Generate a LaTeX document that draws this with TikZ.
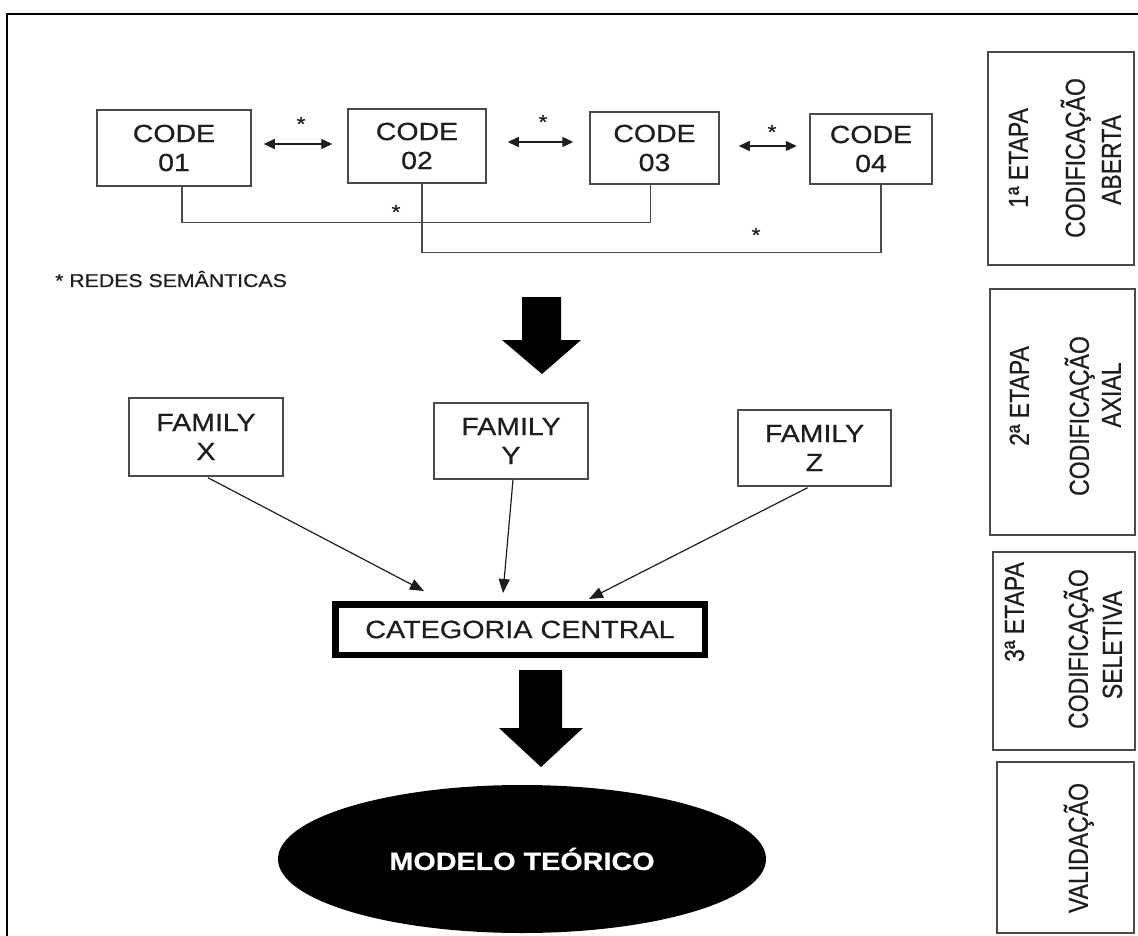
\documentclass[tikz,border=0pt]{standalone}
\usepackage{fontspec}
\setmainfont{Liberation Sans}[FakeStretch=1.15,FakeBold=0.6]
\newfontfamily\rotfont{Liberation Sans}[FakeBold=0.6]
\usetikzlibrary{arrows.meta,shapes.geometric,calc}

\definecolor{ink}{HTML}{1E1E1E}
\definecolor{edge}{HTML}{4A4A4A}

\begin{document}
\begin{tikzpicture}[x=1pt,y=-1pt,
  codebox/.style={draw=edge, line width=1.5pt, fill=white, align=center,
    inner sep=0pt, text=ink, font={\fontsize{24.75}{29}\selectfont}},
  catbox/.style={draw=black, line width=6.5pt, inner sep=0pt, text=ink,
    minimum width=369.5, minimum height=50.5, font={\fontsize{25}{25}\selectfont}},
  stagebox/.style={draw=edge, line width=1.7pt, inner sep=0pt},
  stagetext/.style={rotate=90, yscale=1.2, inner sep=0pt, text=ink,
    text height=16.5pt, text depth=0pt, font={\rotfont\fontsize{23}{23}\selectfont}},
  aster/.style={inner sep=0pt, text=ink, font={\fontsize{20}{20}\selectfont}},
  dbl/.style={{Triangle[length=11pt,width=10pt]}-{Triangle[length=11pt,width=10pt]},
    line width=1.4pt, draw=ink},
  link/.style={line width=1.4pt, draw=edge},
  famarrow/.style={-{Triangle[length=14pt,width=11pt]}, line width=1.2pt, draw=ink},
  blockarrow/.style={fill=black}
]
\useasboundingbox (0,0) rectangle (1138,936);

% outer frame (top and left edges)
\draw[line width=2pt] (7,936) -- (7,14) -- (1138,14);

% open coding: codes
\node[codebox, minimum width=154, minimum height=76] (c1) at (174,148) {CODE\\01};
\node[codebox, minimum width=138, minimum height=74] (c2) at (417,146) {CODE\\02};
\node[codebox, minimum width=129, minimum height=72] (c3) at (654.5,148) {CODE\\03};
\node[codebox, minimum width=122, minimum height=70] (c4) at (871,149) {CODE\\04};

% semantic links between neighbouring codes
\draw[dbl] ($(c1.east)+(12,-4)$) -- ($(c2.west)+(-15,-2)$);
\draw[dbl] ($(c2.east)+(21,-4)$) -- ($(c3.west)+(-16,-6)$);
\draw[dbl] ($(c3.east)+(19,-2)$) -- ($(c4.west)+(-12.5,-3)$);

% semantic links between distant codes
\draw[link] ($(c1.south)+(8,0)$) |- ($(c3.south)+(-4,38)$) -- ($(c3.south)+(-4,0)$);
\draw[link] ($(c2.south)+(5,0)$) |- ($(c4.south)+(10,68)$) -- ($(c4.south)+(10,0)$);

\node[aster] (a12) at (301,124) {*};
\node[aster] (a23) at (543,122) {*};
\node[aster] (a34) at (772,132) {*};
\node[aster] (a13) at (396,212) {*};
\node[aster] (a24) at (756,235) {*};

\node[anchor=west, inner sep=0pt, text=ink, font={\fontsize{18.5}{19}\selectfont}]
  (legend) at (55,279) {* REDES SEMÂNTICAS};

% block arrow to axial coding
\fill[blockarrow] (522,297) -- (561,297) -- (561,340) -- (581,340) -- (542,374)
  -- (502,340) -- (522,340) -- cycle;

% axial coding: families
\node[codebox, minimum width=154, minimum height=78] (fx) at (206,437) {FAMILY\\X};
\node[codebox, minimum width=154, minimum height=76] (fy) at (511,441) {FAMILY\\Y};
\node[codebox, minimum width=153, minimum height=76] (fz) at (814.5,448) {FAMILY\\Z};

% selective coding: central category
\node[catbox] (cat) at (520,629.5) {CATEGORIA CENTRAL};

\draw[famarrow] ($(fx.south)+(2,1)$) -- ($(cat.north)+(-96,-10)$);
\draw[famarrow] ($(fy.south)+(2,0)$) -- ($(cat.north)+(-17,-8)$);
\draw[famarrow] ($(fz.south)+(-7,1)$) -- ($(cat.north)+(69,-2)$);

% block arrow to the theoretical model
\fill[blockarrow] (519,670) -- (562,670) -- (562,728) -- (583,728) -- (541,767)
  -- (499,728) -- (519,728) -- cycle;

\node[ellipse, fill=black, minimum width=488, minimum height=148, inner sep=0pt,
  text=white, font={\bfseries\fontsize{25}{25}\selectfont}] (model) at (522,859)
  {MODELO TEÓRICO};

% stage column
\node[stagebox, minimum width=146, minimum height=213] (s1) at (1061,158.5) {};
\node[stagebox, minimum width=145, minimum height=246] (s2) at (1062.5,412) {};
\node[stagebox, minimum width=142, minimum height=198] (s3) at (1064,651) {};
\node[stagebox, minimum width=137, minimum height=171] (s4) at (1065.5,847.5) {};

\node[stagetext] (s1a) at (1018,158) {1ª ETAPA};
\node[stagetext] (s1b) at (1075,158) {CODIFICAÇÃO};
\node[stagetext] (s1c) at (1111,160) {ABERTA};

\node[stagetext] (s2a) at (1019,396) {2ª ETAPA};
\node[stagetext] (s2b) at (1079,416) {CODIFICAÇÃO};
\node[stagetext] (s2c) at (1111,395) {AXIAL};

\node[stagetext] (s3a) at (1014,612) {3ª ETAPA};
\node[stagetext] (s3b) at (1078,649) {CODIFICAÇÃO};
\node[stagetext] (s3c) at (1112,645) {SELETIVA};

\node[stagetext] (s4a) at (1078,848) {VALIDAÇÃO};
\end{tikzpicture}
\end{document}
